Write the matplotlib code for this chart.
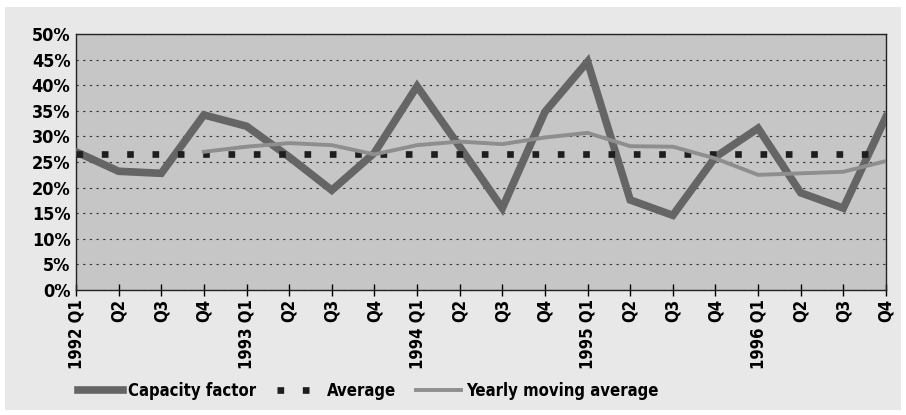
import numpy as np
import matplotlib.pyplot as plt
from matplotlib.patches import Rectangle
from matplotlib.ticker import FuncFormatter

plt.rcParams['font.family'] = ['DejaVu Sans']
plt.rcParams['font.weight'] = 'bold'
plt.rcParams['font.stretch'] = 'condensed'

quarters = ['1992 Q1', 'Q2', 'Q3', 'Q4',
            '1993 Q1', 'Q2', 'Q3', 'Q4',
            '1994 Q1', 'Q2', 'Q3', 'Q4',
            '1995 Q1', 'Q2', 'Q3', 'Q4',
            '1996 Q1', 'Q2', 'Q3', 'Q4']

capacity = [27.0, 23.2, 22.8, 34.2, 32.0, 26.0, 19.5, 26.8, 39.8, 28.0,
            16.0, 34.8, 44.6, 17.6, 14.6, 26.0, 31.6, 19.0, 16.0, 33.8]

average = [26.5] * 20

# moving average starts at 1992 Q4
moving = [None, None, None, 27.0, 28.0, 28.7, 28.3, 26.5, 28.3, 29.0,
          28.5, 29.8, 30.7, 28.1, 28.0, 25.7, 22.5, 22.8, 23.1, 25.2]

x = np.arange(len(quarters))
mov = np.array([np.nan if v is None else v for v in moving])

fig = plt.figure(figsize=(9.06, 4.15), dpi=100, facecolor='white')
fig.patches.append(Rectangle((0.006, 0.012), 0.988, 0.97, transform=fig.transFigure,
                             facecolor='#e8e8e8', edgecolor='none', zorder=-10))
ax = fig.add_axes([0.0839, 0.301, 0.894, 0.617])
ax.set_facecolor('#c6c6c6')

ax.plot(x, capacity, color='#656565', lw=5.5, solid_joinstyle='miter',
        label='Capacity factor', zorder=3)
ax.plot(x, average, color='#1e1e1e', lw=4.8, linestyle=(0, (1, 2.8)),
        dash_capstyle='butt', label='Average', zorder=4)
ax.plot(x, mov, color='#8e8e8e', lw=2.8, label='Yearly moving average', zorder=5)

ax.set_xlim(0, len(quarters) - 1)
ax.set_ylim(0, 50)
ax.set_yticks(np.arange(0, 51, 5))
ax.yaxis.set_major_formatter(FuncFormatter(lambda v, p: f'{v:.0f}%'))
ax.set_xticks(x)
ax.set_xticklabels(quarters, rotation=90, va='top', ha='center')
ax.tick_params(axis='x', direction='inout', length=9, width=1, pad=2, labelsize=12)
ax.tick_params(axis='y', length=0, pad=4, labelsize=13)
ax.grid(axis='y', color='#333333', linestyle=(0, (2, 4)), lw=0.8)
for s in ax.spines.values():
    s.set_color('#222222')
    s.set_linewidth(1.0)

fig.legend(loc='lower left', bbox_to_anchor=(0.07, 0.0), ncol=3, frameon=False,
           fontsize=12, handlelength=2.7, columnspacing=1.2, handletextpad=0.3)

fig.savefig('out.png', dpi=100, facecolor=fig.get_facecolor())
